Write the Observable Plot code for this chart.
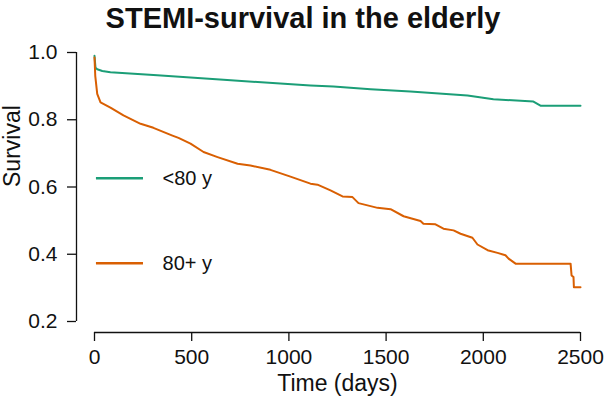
<!DOCTYPE html>
<html>
<head>
<meta charset="utf-8">
<script src="https://cdn.jsdelivr.net/npm/d3@7"></script>
<script src="https://cdn.jsdelivr.net/npm/@observablehq/plot@0.6"></script>
<style>
  html, body { margin: 0; padding: 0; background: #fff; }
  #wrap { width: 606px; height: 405px; overflow: hidden; font-family: "Liberation Sans", Arial, sans-serif; }
  #title { width: 606px; height: 40px; text-align: center; font-weight: bold; font-size: 29px; line-height: 36px; padding-top: 0px; box-sizing: border-box; color: #111; white-space: nowrap; }
</style>
</head>
<body>
<div id="wrap">
  <div id="title"></div>
  <div id="chart"></div>
</div>
<script>
// ---- data ----
const titleText = "STEMI-survival in the elderly";
const groups = ["<80 y", "80+ y"];
const groupColors = ["#1b9e77", "#d95f02"];

const daysUnder80 = [0, 5, 14, 40, 82, 323, 664, 839, 1111, 1229, 1420, 1625, 1919, 2052, 2258, 2294, 2500];
const survUnder80 = [0.99, 0.955, 0.950, 0.945, 0.941, 0.932, 0.919, 0.912, 0.902, 0.899, 0.891, 0.884, 0.872, 0.861, 0.854, 0.842, 0.842];

const days80plus = [0, 4, 14, 31, 82, 149, 237, 303, 401, 432, 494, 561, 633, 736, 802, 905, 1008, 1111, 1147, 1214, 1276, 1327, 1358, 1456, 1523, 1590, 1677, 1692, 1754, 1795, 1847, 1883, 1944, 1970, 2022, 2073, 2114, 2130, 2166, 2449, 2454, 2464, 2466, 2500];
const surv80plus = [0.985, 0.93, 0.877, 0.852, 0.836, 0.813, 0.788, 0.776, 0.753, 0.746, 0.729, 0.704, 0.689, 0.669, 0.664, 0.651, 0.631, 0.610, 0.607, 0.590, 0.572, 0.570, 0.552, 0.538, 0.534, 0.513, 0.499, 0.491, 0.489, 0.476, 0.471, 0.461, 0.449, 0.429, 0.412, 0.404, 0.397, 0.387, 0.372, 0.372, 0.337, 0.332, 0.302, 0.302];

const xTicks = [0, 500, 1000, 1500, 2000, 2500];
const yTicks = [0.2, 0.4, 0.6, 0.8, 1.0];
const xLabel = "Time (days)";
const yLabel = "Survival";

document.getElementById("title").textContent = titleText;

// ---- build tables ----
const under80 = daysUnder80.map((d, i) => ({day: d, surv: survUnder80[i]}));
const over80 = days80plus.map((d, i) => ({day: d, surv: surv80plus[i]}));

// legend layout (data-space placement of the in-plot legend)
const legendRows = groups.map((g, i) => ({label: g, color: groupColors[i], y: [0.626, 0.373][i]}));

const fontFam = "Liberation Sans, Arial, sans-serif";

const chart = Plot.plot({
  width: 606,
  height: 365,
  marginLeft: 94,
  marginRight: 26,
  marginTop: 12,
  marginBottom: 84,
  style: {fontFamily: fontFam, color: "#111", background: "white"},
  x: {domain: [0, 2500]},
  y: {domain: [0.2, 1.0]},
  marks: [
    // y axis
    Plot.ruleX([0], {y1: yTicks[0], y2: yTicks[yTicks.length - 1], dx: -18, stroke: "#111", strokeWidth: 1.3}),
    Plot.axisY({ticks: yTicks, tickSize: 9, tickPadding: 10, dx: -18, tickFormat: d3.format(".1f"), fontSize: 21, label: null, stroke: "#111", strokeWidth: 1.3}),
    // x axis
    Plot.ruleY([yTicks[0]], {x1: xTicks[0], x2: xTicks[xTicks.length - 1], dy: 11, stroke: "#111", strokeWidth: 1.3}),
    Plot.axisX({ticks: xTicks, tickSize: 9, tickPadding: 8, dy: 11, tickFormat: d => String(d), fontSize: 21, label: null, stroke: "#111", strokeWidth: 1.3}),
    // axis titles
    Plot.text([yLabel], {frameAnchor: "left", rotate: -90, dx: -82, fontSize: 23, fill: "#111"}),
    Plot.text([xLabel], {frameAnchor: "bottom", dy: 69, fontSize: 23, fill: "#111"}),
    // survival curves
    Plot.line(under80, {x: "day", y: "surv", stroke: groupColors[0], strokeWidth: 2}),
    Plot.line(over80, {x: "day", y: "surv", stroke: groupColors[1], strokeWidth: 2}),
    // legend
    Plot.ruleY(legendRows, {y: "y", x1: 10, x2: 252, stroke: "color", strokeWidth: 2.5}),
    Plot.text(legendRows, {x: 350, y: "y", text: "label", textAnchor: "start", fontSize: 20, fill: "#111"})
  ]
});
document.getElementById("chart").appendChild(chart);
</script>
</body>
</html>
